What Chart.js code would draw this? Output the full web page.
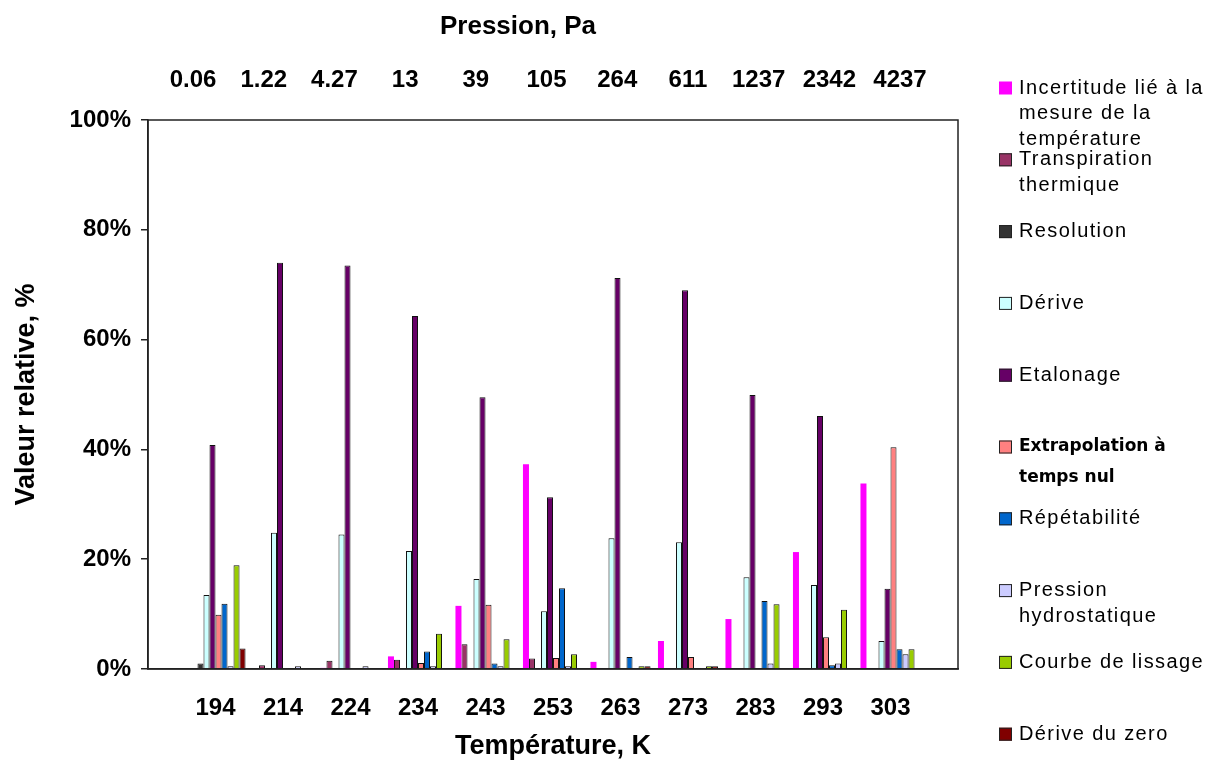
<!DOCTYPE html>
<html>
<head>
<meta charset="utf-8">
<script src="https://cdn.jsdelivr.net/npm/chart.js@4.4.1/dist/chart.umd.min.js"></script>
<style>
  html, body { margin: 0; padding: 0; background: #fff; }
  #wrap { width: 1222px; height: 765px; }
</style>
</head>
<body>
<div id="wrap"><canvas id="uncertaintyChart" width="1222" height="765"></canvas></div>
<script>
// Temperatures (K) on the bottom axis and matching pressures (Pa) on the top axis
const temperatures = ['194', '214', '224', '234', '243', '253', '263', '273', '283', '293', '303'];
const pressures = ['0.06', '1.22', '4.27', '13', '39', '105', '264', '611', '1237', '2342', '4237'];
const yTicks = [0, 20, 40, 60, 80, 100];

// relative contribution of each uncertainty source, in %
const incertitudeTemp = [0, 0, 0.2, 2.3, 11.5, 37.3, 1.3, 5.1, 9.1, 21.3, 33.8];
const transpiration = [0, 0.7, 1.5, 1.7, 4.5, 1.9, 0.2, 0, 0, 0, 0];
const resolution = [1.0, 0, 0, 0, 0, 0, 0, 0, 0, 0, 0];
const derive = [13.5, 24.8, 24.5, 21.5, 16.4, 10.5, 23.8, 23.1, 16.7, 15.3, 5.1];
const etalonage = [40.8, 74.0, 73.5, 64.3, 49.5, 31.3, 71.2, 69.0, 49.9, 46.1, 14.6];
const extrapolation = [9.9, 0.2, 0.2, 1.1, 11.7, 2.0, 0.2, 2.2, 0, 5.8, 40.4];
const repetabilite = [11.9, 0, 0, 3.2, 1.0, 14.7, 2.2, 0, 12.4, 0.7, 3.6];
const pressionHydro = [0.5, 0.5, 0.5, 0.5, 0.5, 0.5, 0.2, 0.2, 1.0, 1.0, 2.7];
const courbeLissage = [18.9, 0, 0, 6.4, 5.4, 2.7, 0.5, 0.5, 11.8, 10.8, 3.6];
const deriveZero = [3.75, 0, 0, 0, 0, 0, 0.5, 0.5, 0.2, 0.2, 0];

const series = [
  { label: ['Incertitude lié à la', 'mesure de la', 'température'], data: incertitudeTemp, color: '#FF00FF', border: 0 },
  { label: ['Transpiration', 'thermique'], data: transpiration, color: '#993366', border: 1 },
  { label: ['Resolution'], data: resolution, color: '#333333', border: 1 },
  { label: ['Dérive'], data: derive, color: '#CCFFFF', border: 1 },
  { label: ['Etalonage'], data: etalonage, color: '#660066', border: 1 },
  { label: ['Extrapolation à', 'temps nul'], data: extrapolation, color: '#FF8080', border: 1, bold: true },
  { label: ['Répétabilité'], data: repetabilite, color: '#0066CC', border: 1 },
  { label: ['Pression', 'hydrostatique'], data: pressionHydro, color: '#CCCCFF', border: 1 },
  { label: ['Courbe de lissage'], data: courbeLissage, color: '#99CC00', border: 1 },
  { label: ['Dérive du zero'], data: deriveZero, color: '#800000', border: 1 }
];

const FONT = "'Liberation Sans', Arial, sans-serif";

// one empty slot on each side so the groups sit like in the original sheet
const paddedLabels = [''].concat(temperatures, ['']);

// frame round the plot, top title, and a hand-drawn legend with wrapped labels
const framePlugin = {
  id: 'frameAndLegend',
  afterDraw(chart) {
    const { ctx, chartArea } = chart;
    ctx.save();
    ctx.strokeStyle = '#222';
    ctx.lineWidth = 1.5;
    ctx.strokeRect(chartArea.left, chartArea.top, chartArea.right - chartArea.left, chartArea.bottom - chartArea.top);

    // top axis title sits a bit left of centre in the original
    ctx.fillStyle = '#000';
    ctx.font = 'bold 26px ' + FONT;
    ctx.textAlign = 'center';
    ctx.textBaseline = 'middle';
    ctx.fillText('Pression, Pa', 518, 27);

    const x0 = 999;
    let y = 88;
    series.forEach(s => {
      ctx.fillStyle = s.color;
      ctx.fillRect(x0, y - 6.5, 13, 13);
      if (s.border) {
        ctx.strokeStyle = '#222';
        ctx.lineWidth = 1;
        ctx.strokeRect(x0 + 0.5, y - 6, 12, 12);
      }
      ctx.fillStyle = '#000';
      ctx.textBaseline = 'middle';
      ctx.textAlign = 'left';
      ctx.font = s.bold ? "bold 17px 'DejaVu Sans', sans-serif" : '20px ' + FONT;
      ctx.letterSpacing = s.bold ? '0px' : '1.4px';
      const lh = s.bold ? 31 : 25.5;
      s.label.forEach((line, i) => {
        ctx.fillText(line, 1019, y + i * lh);
      });
      y += 71.8;
    });
    ctx.restore();
  }
};

const ctx = document.getElementById('uncertaintyChart').getContext('2d');
const chart = new Chart(ctx, {
  type: 'bar',
  data: {
    labels: paddedLabels,
    datasets: series.map(s => ({
      label: s.label.join(' '),
      data: [null].concat(s.data, [null]),
      backgroundColor: s.color,
      borderColor: '#111',
      borderWidth: s.border,
      borderSkipped: 'start',
      categoryPercentage: 0.89,
      barPercentage: 1.0
    }))
  },
  options: {
    responsive: false,
    animation: false,
    layout: { padding: { left: 0, right: 264, top: 0, bottom: 0 } },
    plugins: {
      legend: { display: false },
      tooltip: { enabled: false }
    },
    scales: {
      x: {
        type: 'category',
        position: 'bottom',
        offset: false,
        grid: { display: false, drawTicks: false },
        border: { display: true, color: '#222', width: 1.5 },
        ticks: {
          color: '#000',
          font: { family: FONT, size: 24, weight: 'bold' },
          padding: 25,
          maxRotation: 0,
          autoSkip: false
        },
        title: {
          display: true,
          text: 'Température, K',
          color: '#000',
          font: { family: FONT, size: 27, weight: 'bold' },
          padding: { top: 0, bottom: 2 }
        },
        afterFit(scale) { scale.height = 96; }
      },
      xTop: {
        type: 'linear',
        position: 'top',
        offset: false,
        min: -0.637,
        max: 10.82,
        grid: { display: false, drawTicks: false },
        border: { display: false },
        afterBuildTicks(scale) {
          scale.ticks = pressures.map((p, i) => ({ value: i }));
        },
        ticks: {
          color: '#000',
          font: { family: FONT, size: 24, weight: 'bold' },
          padding: 25,
          maxRotation: 0,
          autoSkip: false,
          callback: (v) => pressures[v]
        },
        afterFit(scale) { scale.height = 120; }
      },
      y: {
        min: 0,
        max: 100,
        afterBuildTicks(scale) {
          scale.ticks = yTicks.map(v => ({ value: v }));
        },
        grid: { drawOnChartArea: false, drawTicks: true, tickLength: 7, color: '#222', lineWidth: 1.5 },
        border: { display: true, color: '#222', width: 1.5 },
        ticks: {
          color: '#000',
          font: { family: FONT, size: 24, weight: 'bold' },
          padding: 10,
          callback: (v) => v + '%'
        },
        title: {
          display: true,
          text: 'Valeur relative, %',
          color: '#000',
          font: { family: FONT, size: 27, weight: 'bold' },
          padding: { top: 10, bottom: 0 }
        },
        afterFit(scale) { scale.width = 148; }
      }
    }
  },
  plugins: [framePlugin]
});
</script>
</body>
</html>
